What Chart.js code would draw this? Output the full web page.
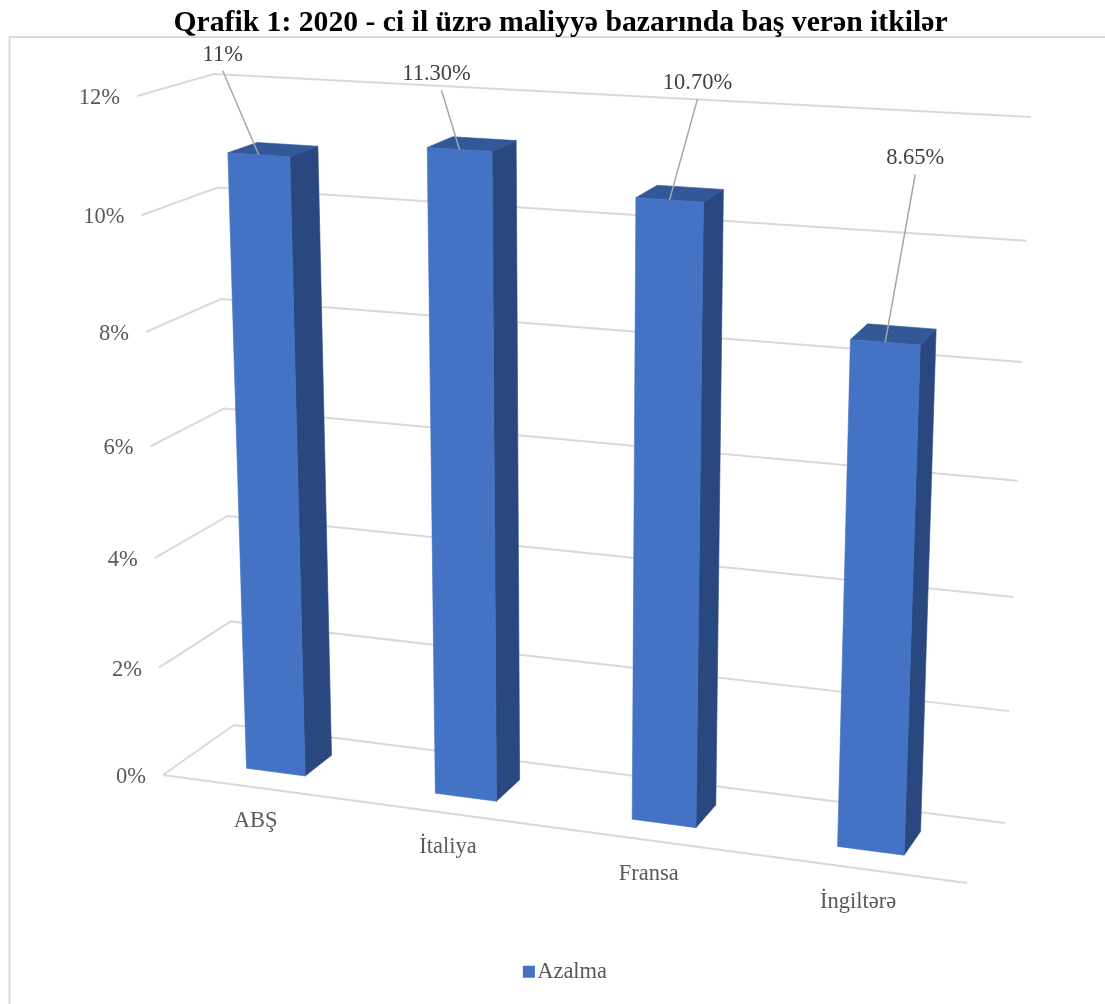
<!DOCTYPE html>
<html>
<head>
<meta charset="utf-8">
<style>
html, body { margin: 0; padding: 0; background: #fff; }
#wrap { width: 1105px; height: 1004px; }
</style>
<script src="https://cdn.jsdelivr.net/npm/chart.js@4"></script>
</head>
<body>
<div id="wrap"><canvas id="chart" width="1105" height="1004"></canvas></div>
<script>
const categories = ['ABŞ', 'İtaliya', 'Fransa', 'İngiltərə'];
const seriesName = 'Azalma';
const seriesValues = [11, 11.3, 10.7, 8.65];
const barLabels = ['11%', '11.30%', '10.70%', '8.65%'];
const tickValues = [0, 2, 4, 6, 8, 10, 12];
const titleText = 'Qrafik 1: 2020 - ci il üzrə maliyyə bazarında baş verən itkilər';

// where the 3d box sits on the page: bottom-left, bottom-right, top-right, top-left
const frontPlane = [[163, 775], [967, 883], [996, 148], [137, 96]];
const backPlane = [[234, 725], [1005, 823], [1031, 117], [214, 74]];
const barDepth = [0.3, 0.7];
const uShift = -0.001;

// data label offsets from the bar top, in px
const labelOffsets = [[-36, -100], [-23, -75], [28, -117], [30, -184]];
const leaderShift = [0, 5, 0, 0];

const FONT = '"Liberation Serif", "Times New Roman", serif';
const GRID = '#D9D9D9';
const TEXT = '#595959';
const FRONT = '#4472C4';
const SIDE = '#2A4880';
const TOP = '#335898';

// unit square to quad
function makeHomography(q) {
    const [x0, y0] = q[0], [x1, y1] = q[1], [x2, y2] = q[2], [x3, y3] = q[3];
    const dx1 = x1 - x2, dx2 = x3 - x2, sx = x0 - x1 + x2 - x3;
    const dy1 = y1 - y2, dy2 = y3 - y2, sy = y0 - y1 + y2 - y3;
    const den = dx1 * dy2 - dx2 * dy1;
    const g = (sx * dy2 - dx2 * sy) / den;
    const h = (dx1 * sy - sx * dy1) / den;
    const a = x1 - x0 + g * x1, b = x3 - x0 + h * x3;
    const d = y1 - y0 + g * y1, e = y3 - y0 + h * y3;
    return (u, v) => {
        const w = g * u + h * v + 1;
        return [(a * u + b * v + x0) / w, (d * u + e * v + y0) / w];
    };
}
const frontMap = makeHomography(frontPlane);
const backMap = makeHomography(backPlane);

function project(u, v, depth) {
    const f = frontMap(u, v), b = backMap(u, v);
    return [f[0] + (b[0] - f[0]) * depth, f[1] + (b[1] - f[1]) * depth];
}

function polyline(ctx, pts) {
    ctx.beginPath();
    pts.forEach((p, i) => i ? ctx.lineTo(p[0], p[1]) : ctx.moveTo(p[0], p[1]));
}

function fillPoly(ctx, pts, color) {
    polyline(ctx, pts);
    ctx.closePath();
    ctx.fillStyle = color;
    ctx.fill();
    // thin stroke hides the seam between faces
    ctx.strokeStyle = color;
    ctx.lineWidth = 0.6;
    ctx.stroke();
}

const box3d = {
    id: 'box3d',
    beforeDraw(chart) {
        // chart frame
        const ctx = chart.ctx;
        ctx.save();
        ctx.strokeStyle = GRID;
        ctx.lineWidth = 2;
        polyline(ctx, [[9.5, chart.height], [9.5, 37], [chart.width, 37]]);
        ctx.stroke();
        ctx.restore();
    },
    beforeDatasetsDraw(chart) {
        const ctx = chart.ctx;
        const area = chart.chartArea;
        const yScale = chart.scales.y;
        const vOf = px => (area.bottom - px) / (area.bottom - area.top);
        const uOf = px => (px - area.left) / (area.right - area.left) + uShift;

        ctx.save();
        // grid on side wall and back wall
        ctx.strokeStyle = GRID;
        ctx.lineWidth = 2;
        ctx.lineJoin = 'miter';
        yScale.ticks.forEach(t => {
            const v = vOf(yScale.getPixelForValue(t.value));
            polyline(ctx, [project(0, v, 0), project(0, v, 1), project(1, v, 1)]);
            ctx.stroke();
        });
        // front floor edge
        polyline(ctx, [project(0, 0, 0), project(1, 0, 0)]);
        ctx.stroke();

        // y tick labels
        ctx.font = '22.5px ' + FONT;
        ctx.fillStyle = TEXT;
        ctx.textAlign = 'right';
        ctx.textBaseline = 'middle';
        yScale.ticks.forEach(t => {
            const v = vOf(yScale.getPixelForValue(t.value));
            const p = project(0, v, 0);
            ctx.fillText(t.label, p[0] - 17, p[1] + 2);
        });

        // bars
        const bars = chart.getDatasetMeta(0).data;
        bars.forEach(bar => {
            const u0 = uOf(bar.x - bar.width / 2), u1 = uOf(bar.x + bar.width / 2);
            const vT = vOf(bar.y), vB = vOf(bar.base);
            const [d0, d1] = barDepth;
            fillPoly(ctx, [project(u1, vB, d0), project(u1, vB, d1), project(u1, vT, d1), project(u1, vT, d0)], SIDE);
            fillPoly(ctx, [project(u0, vT, d0), project(u1, vT, d0), project(u1, vT, d1), project(u0, vT, d1)], TOP);
            fillPoly(ctx, [project(u0, vB, d0), project(u1, vB, d0), project(u1, vT, d0), project(u0, vT, d0)], FRONT);
        });

        // leader lines and value labels
        bars.forEach((bar, i) => {
            const end = project(uOf(bar.x), vOf(bar.y), barDepth[0]);
            const lx = end[0] + labelOffsets[i][0], ly = end[1] + labelOffsets[i][1];
            ctx.strokeStyle = '#A6A6A6';
            ctx.lineWidth = 1.5;
            polyline(ctx, [[lx + leaderShift[i], ly + 16], end]);
            ctx.stroke();
            ctx.fillStyle = '#404040';
            ctx.textAlign = 'center';
            ctx.fillText(barLabels[i], lx, ly);
        });

        // category labels under the floor
        ctx.fillStyle = TEXT;
        ctx.textAlign = 'center';
        bars.forEach((bar, i) => {
            const p = project(uOf(bar.x), 0, 0);
            ctx.fillText(categories[i], p[0], p[1] + 34);
        });
        ctx.restore();
        return false; // marks are drawn above
    },
    afterDraw(chart) {
        // square sits tight against the legend text
        const hit = chart.legend.legendHitBoxes[0];
        const ctx = chart.ctx;
        ctx.save();
        ctx.fillStyle = FRONT;
        ctx.fillRect(hit.left + 9, hit.top + hit.height / 2 - 6, 12, 12);
        ctx.restore();
    }
};

new Chart(document.getElementById('chart'), {
    type: 'bar',
    data: {
        labels: categories,
        datasets: [{
            label: seriesName,
            data: seriesValues,
            backgroundColor: FRONT,
            barPercentage: 0.315,
            categoryPercentage: 1
        }]
    },
    options: {
        responsive: false,
        animation: false,
        layout: { padding: { left: 16, bottom: 11 } },
        scales: {
            x: { display: false },
            y: {
                display: false,
                min: tickValues[0],
                max: tickValues[tickValues.length - 1],
                ticks: { stepSize: 2, callback: v => v + '%' }
            }
        },
        plugins: {
            title: {
                display: true,
                text: titleText,
                color: '#000',
                font: { family: FONT, size: 29.7, weight: 'bold' },
                padding: { top: 6, bottom: 10 }
            },
            legend: {
                display: true,
                position: 'bottom',
                labels: {
                    color: TEXT,
                    font: { family: FONT, size: 22.5 },
                    boxWidth: 12,
                    boxHeight: 12,
                    padding: 10,
                    generateLabels: chart => [{
                        text: chart.data.datasets[0].label,
                        fillStyle: 'transparent',
                        strokeStyle: 'transparent',
                        lineWidth: 0,
                        fontColor: TEXT,
                        datasetIndex: 0
                    }]
                }
            },
            tooltip: { enabled: false }
        }
    },
    plugins: [box3d]
});
</script>
</body>
</html>
